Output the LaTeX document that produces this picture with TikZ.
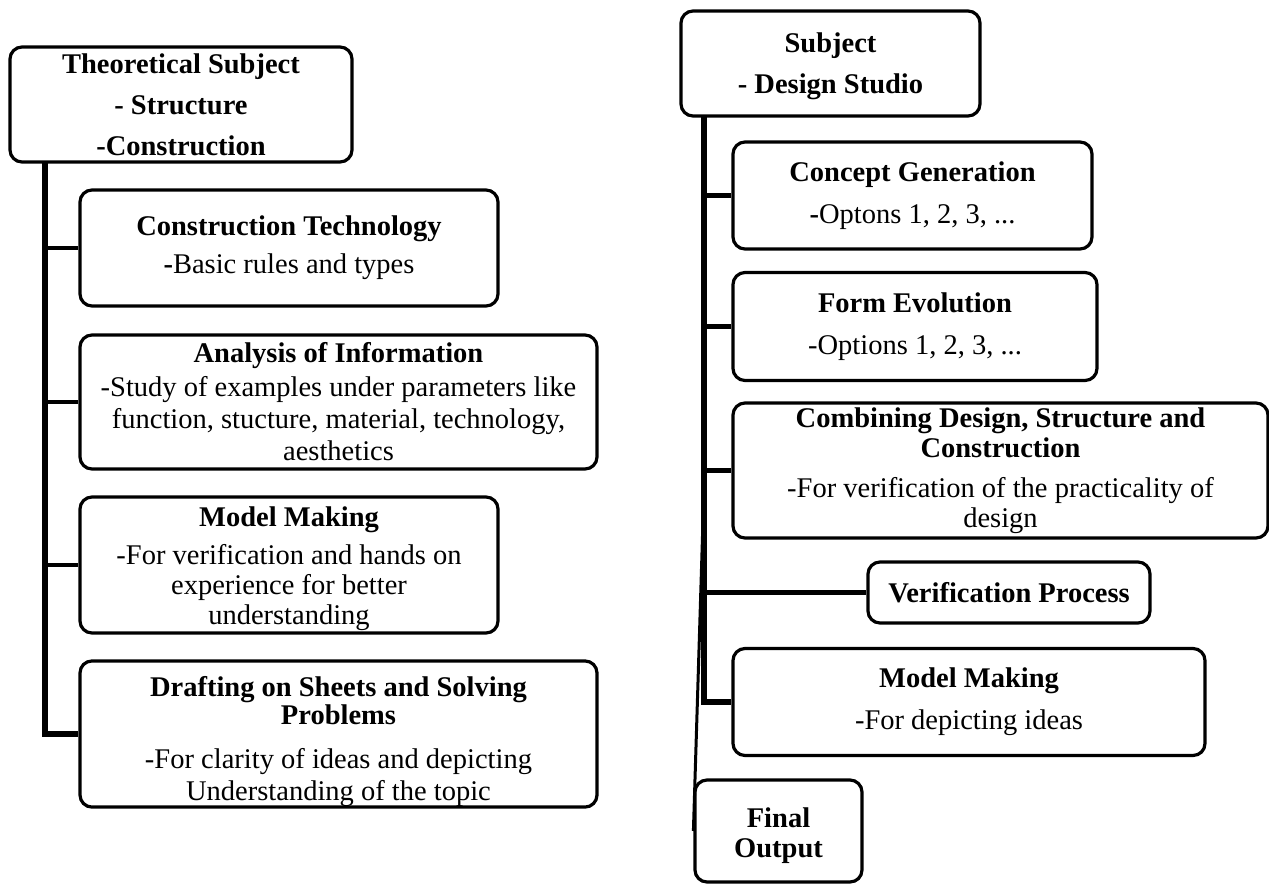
\documentclass[tikz,border=0pt]{standalone}
\usepackage{fontspec}
\setmainfont{Liberation Serif}
\begin{document}
\begin{tikzpicture}[x=1pt,y=-1pt,
  box/.style={draw, line width=3.2pt, rounded corners=12pt, align=center, inner sep=0pt,
    font=\fontsize{28.5}{32}\selectfont},
  hbox/.style={box, font=\fontsize{28.5}{41}\selectfont\bfseries},
  trunk/.style={line width=5.5pt},
  branch/.style={line width=4.5pt},
  thinline/.style={line width=3pt}
]
\useasboundingbox (0,0) rectangle (1269,884);

% ---------- left column ----------
\node[hbox, minimum width=342pt, minimum height=115pt] (lt) at (181,104.5)
  {Theoretical Subject\\- Structure\\-Construction};
\node[box, minimum width=418pt, minimum height=116pt] (l1) at (289,248)
  {\textbf{Construction Technology}\\[6pt]\textbf{-}Basic rules and types};
\node[box, minimum width=517pt, minimum height=134pt] (l2) at (338.5,402)
  {\textbf{Analysis of Information}\\[2pt]-Study of examples under parameters like\\function, stucture, material, technology,\\aesthetics};
\node[box, minimum width=418pt, minimum height=136pt] (l3) at (289,565)
  {\rule{0pt}{28pt}\textbf{Model Making}\\[6pt]-For verification and hands on\\[-2pt]experience for better\\[-2pt]understanding};
\node[box, minimum width=517pt, minimum height=144pt] (l4) at (338.5,734)
  {\rule{0pt}{36pt}\textbf{Drafting on Sheets and Solving}\\[-4pt]\textbf{Problems}\\[12pt]-For clarity of ideas and depicting\\Understanding of the topic};

\coordinate (ltop) at (45,162);
\draw[trunk] (ltop) |- (l4.west);
\draw[branch] (l1.west -| ltop) -- (l1.west);
\draw[branch] (l2.west -| ltop) -- (l2.west);
\draw[branch] (l3.west -| ltop) -- (l3.west);

% ---------- right column ----------
\node[hbox, minimum width=299pt, minimum height=105pt] (rt) at (830.5,63.5)
  {\rule{0pt}{26pt}Subject\\- Design Studio};
\node[box, minimum width=359pt, minimum height=107pt] (r1) at (912.5,195.5)
  {\textbf{Concept Generation}\\[10pt]\textbf{-}Optons 1, 2, 3, ...};
\node[box, minimum width=364pt, minimum height=108pt] (r2) at (915,326.5)
  {\textbf{Form Evolution}\\[10pt]-Options 1, 2, 3, ...};
\node[box, minimum width=535pt, minimum height=135pt] (r3) at (1000.5,470.5)
  {\textbf{Combining Design, Structure and}\\[-2pt]\textbf{Construction}\\[8pt]-For verification of the practicality of\\[-2pt]design};
\node[box, minimum width=282pt, minimum height=61pt] (r4) at (1009,592.5)
  {\textbf{Verification Process}};
\node[box, minimum width=472pt, minimum height=107pt] (r5) at (969,702)
  {\textbf{Model Making}\\[10pt]-For depicting ideas};
\node[box, minimum width=167pt, minimum height=102pt] (r6) at (778.5,831)
  {\rule{0pt}{30pt}\textbf{Final}\\[-2pt]\textbf{Output}};

\coordinate (rtop) at (704,115);
\coordinate (rsplit) at (703,520);
\draw[trunk] (rtop) |- (r5.west);
\draw[branch] (r1.west -| rtop) -- (r1.west);
\draw[branch] (r2.west -| rtop) -- (r2.west);
\draw[branch] (r3.west -| rtop) -- (r3.west);
\draw[branch] (r4.west -| rtop) -- (r4.west);
\draw[thinline] (rsplit) -- (r6.west);
\end{tikzpicture}
\end{document}
